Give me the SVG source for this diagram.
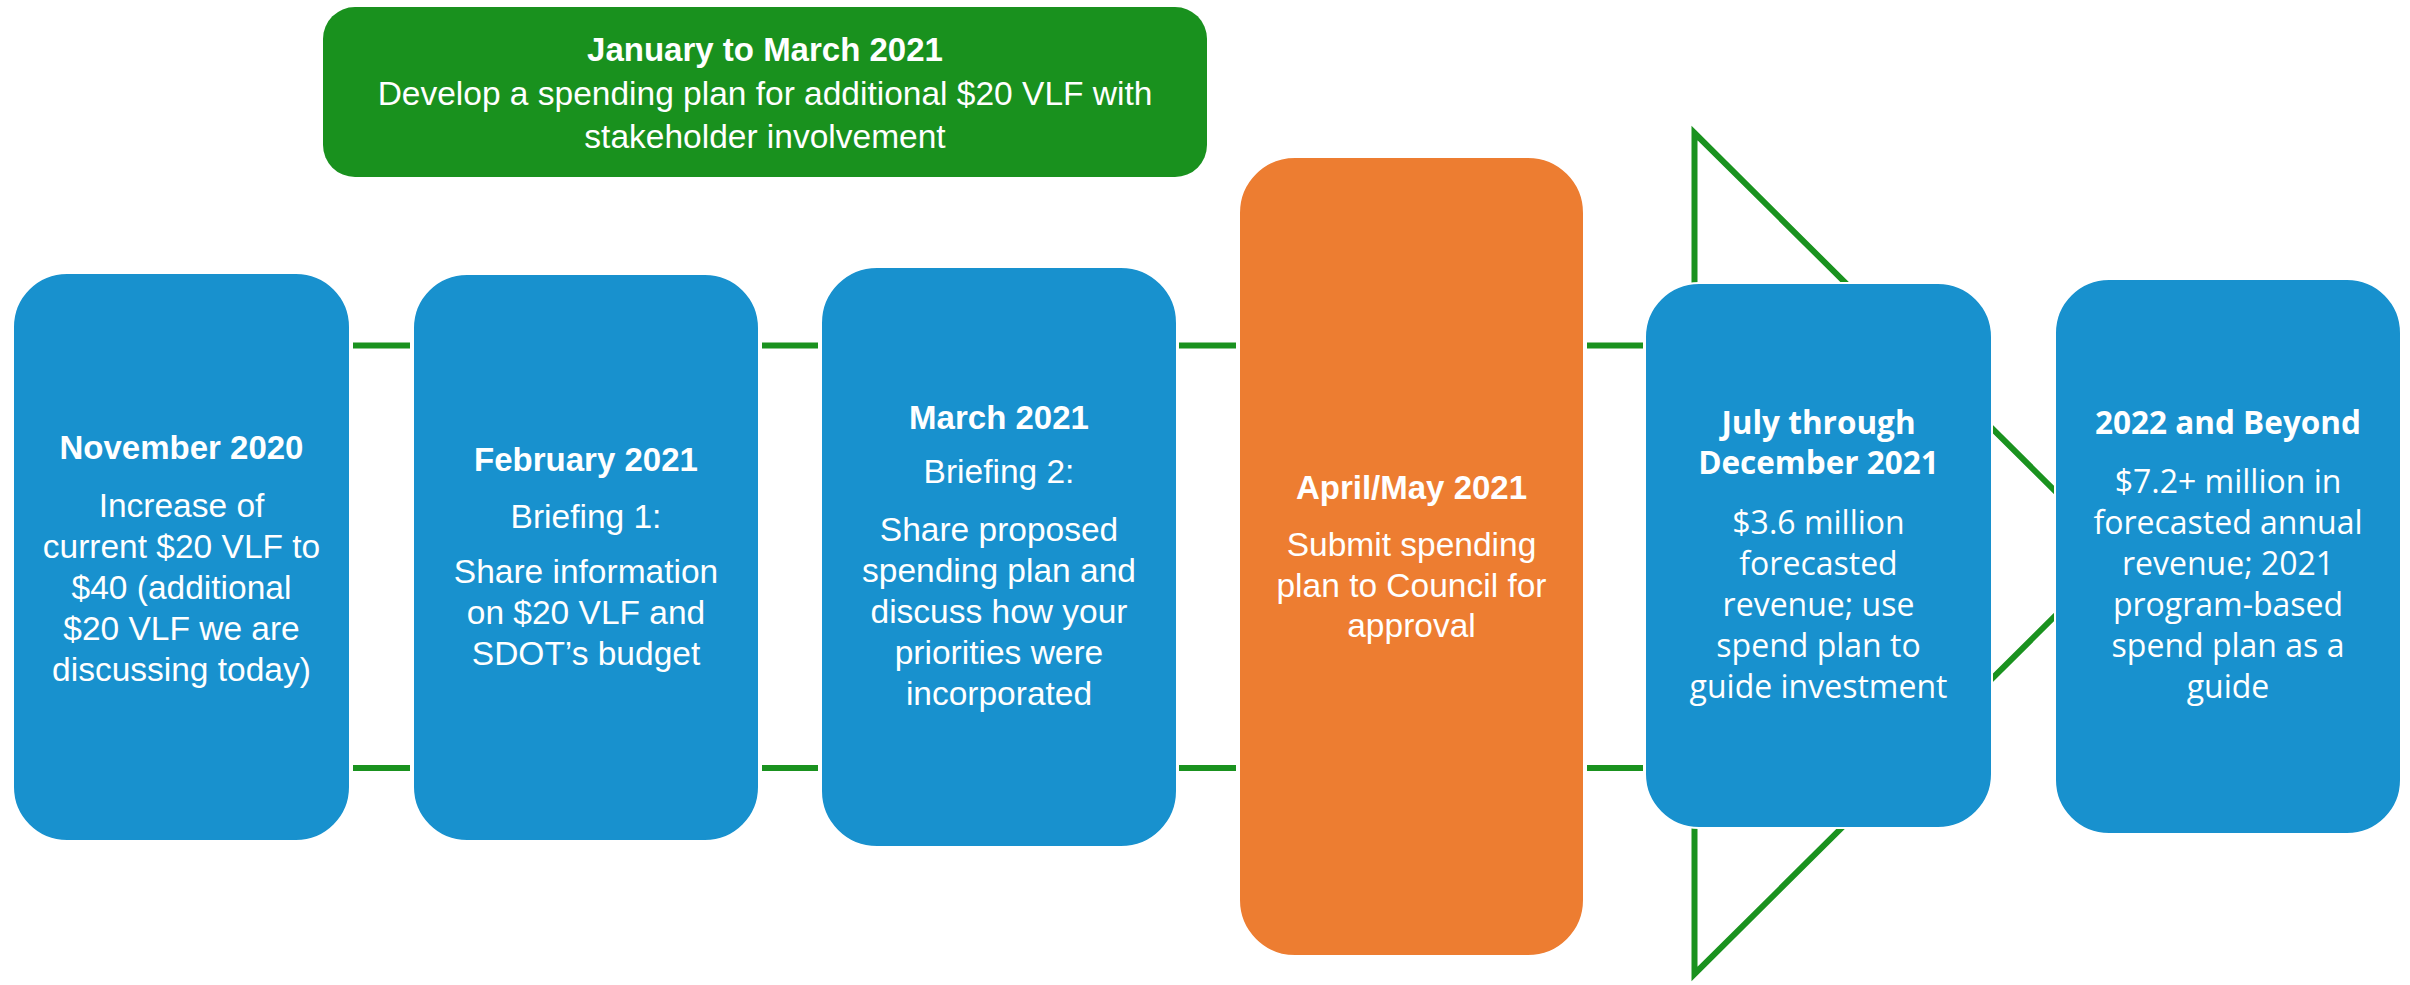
<svg xmlns="http://www.w3.org/2000/svg" width="2410" height="985" viewBox="0 0 2410 985">
<style>
.blue{fill:#1891CE;stroke:#ffffff;stroke-width:2}
.orange{fill:#ED7D31;stroke:#ffffff;stroke-width:2}
.greenbox{fill:#19911E}
.conn{stroke:#1A921F;stroke-width:6;fill:none}
.t{font-family:"Liberation Sans",Arial,sans-serif;font-size:33.5px;fill:#ffffff;text-anchor:middle}
.tb{font-family:"Liberation Sans",Arial,sans-serif;font-size:33px;font-weight:bold;fill:#ffffff;text-anchor:middle}
.o{font-family:"Open Sans",sans-serif;font-size:32px;fill:#ffffff;text-anchor:middle}
.ob{font-family:"Open Sans",sans-serif;font-size:31.5px;font-weight:bold;fill:#ffffff;text-anchor:middle}
</style>
<rect width="2410" height="985" fill="#ffffff"/>
<g id="connectors">
<polygon class="conn" points="1694.5,133 2118,553.5 1694.5,974" stroke-linejoin="miter"/>
<line class="conn" x1="353" y1="345.5" x2="410" y2="345.5"/>
<line class="conn" x1="353" y1="768" x2="410" y2="768"/>
<line class="conn" x1="762" y1="345.5" x2="818" y2="345.5"/>
<line class="conn" x1="762" y1="768" x2="818" y2="768"/>
<line class="conn" x1="1179" y1="345.5" x2="1236" y2="345.5"/>
<line class="conn" x1="1179" y1="768" x2="1236" y2="768"/>
<line class="conn" x1="1587" y1="345.5" x2="1643" y2="345.5"/>
<line class="conn" x1="1587" y1="768" x2="1643" y2="768"/>
</g>
<g id="jan-mar-2021">
<rect class="greenbox" x="323" y="7" width="884" height="170" rx="32"/>
<text class="tb" x="765" y="61">January to March 2021</text>
<text class="t" x="765" y="105">Develop a spending plan for additional $20 VLF with</text>
<text class="t" x="765" y="148">stakeholder involvement</text>
</g>
<g id="nov-2020">
<rect class="blue" x="13" y="273" width="337" height="568" rx="54"/>
<text class="tb" x="181.5" y="459">November 2020</text>
<text class="t" x="181.5" y="517">Increase of</text>
<text class="t" x="181.5" y="558">current $20 VLF to</text>
<text class="t" x="181.5" y="599">$40 (additional</text>
<text class="t" x="181.5" y="640">$20 VLF we are</text>
<text class="t" x="181.5" y="681">discussing today)</text>
</g>
<g id="feb-2021">
<rect class="blue" x="413" y="274" width="346" height="567" rx="54"/>
<text class="tb" x="586" y="471">February 2021</text>
<text class="t" x="586" y="528">Briefing 1:</text>
<text class="t" x="586" y="583">Share information</text>
<text class="t" x="586" y="624">on $20 VLF and</text>
<text class="t" x="586" y="665">SDOT’s budget</text>
</g>
<g id="mar-2021">
<rect class="blue" x="821" y="267" width="356" height="580" rx="56"/>
<text class="tb" x="999" y="429">March 2021</text>
<text class="t" x="999" y="483">Briefing 2:</text>
<text class="t" x="999" y="541">Share proposed</text>
<text class="t" x="999" y="582">spending plan and</text>
<text class="t" x="999" y="623">discuss how your</text>
<text class="t" x="999" y="664">priorities were</text>
<text class="t" x="999" y="705">incorporated</text>
</g>
<g id="apr-may-2021">
<rect class="orange" x="1239" y="157" width="345" height="799" rx="56"/>
<text class="tb" x="1411.5" y="499">April/May 2021</text>
<text class="t" x="1411.5" y="556">Submit spending</text>
<text class="t" x="1411.5" y="597">plan to Council for</text>
<text class="t" x="1411.5" y="637">approval</text>
</g>
<g id="jul-dec-2021">
<rect class="blue" x="1645" y="283" width="347" height="545" rx="54"/>
<text class="ob" x="1818.5" y="434">July through</text>
<text class="ob" x="1818.5" y="474">December 2021</text>
<text class="o" x="1818.5" y="534">$3.6 million</text>
<text class="o" x="1818.5" y="575">forecasted</text>
<text class="o" x="1818.5" y="616">revenue; use</text>
<text class="o" x="1818.5" y="657">spend plan to</text>
<text class="o" x="1818.5" y="698">guide investment</text>
</g>
<g id="y2022-beyond">
<rect class="blue" x="2055" y="279" width="346" height="555" rx="54"/>
<text class="ob" x="2228" y="434">2022 and Beyond</text>
<text class="o" x="2228" y="493">$7.2+ million in</text>
<text class="o" x="2228" y="534">forecasted annual</text>
<text class="o" x="2228" y="575">revenue; 2021</text>
<text class="o" x="2228" y="616">program-based</text>
<text class="o" x="2228" y="657">spend plan as a</text>
<text class="o" x="2228" y="698">guide</text>
</g>
</svg>
